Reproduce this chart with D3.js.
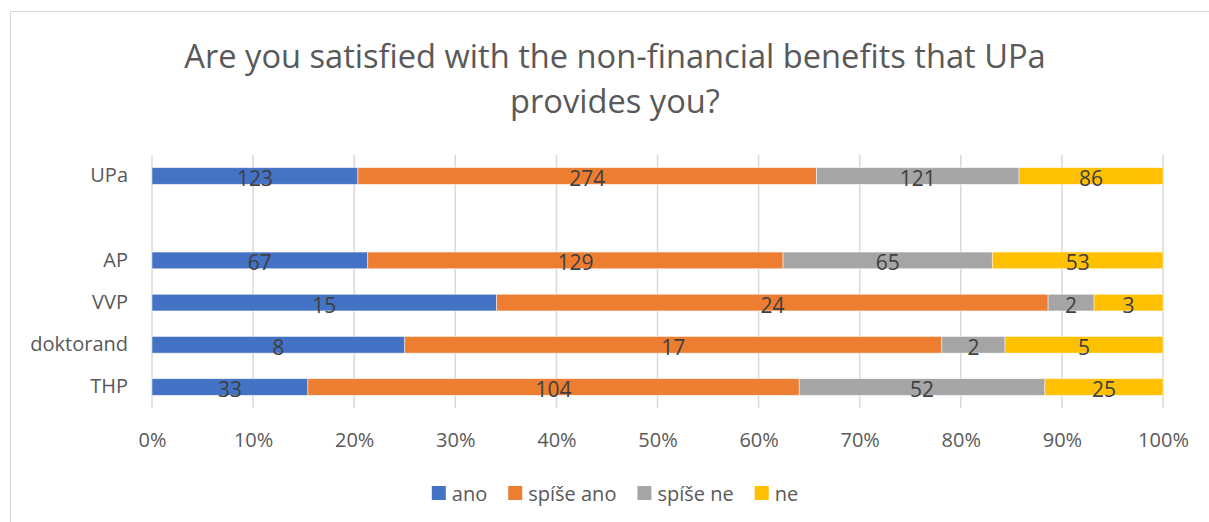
<!DOCTYPE html>
<html>
<head>
<meta charset="utf-8">
<script src="https://cdn.jsdelivr.net/npm/d3@7"></script>
<style>
  html, body { margin: 0; padding: 0; background: #fff; }
  svg { display: block; font-family: "Open Sans", sans-serif; }
</style>
</head>
<body>
<svg id="chart" width="1209" height="522"></svg>
<script>
// ---- data ----
const titleLines = ["Are you satisfied with the non-financial benefits that UPa", "provides you?"];
const categories = ["UPa", "", "AP", "VVP", "doktorand", "THP"];
const seriesNames = ["ano", "spíše ano", "spíše ne", "ne"];
const seriesColors = ["#4472C4", "#ED7D31", "#A5A5A5", "#FFC000"];
const ano      = [123, null, 67, 15, 8, 33];
const spiseAno = [274, null, 129, 24, 17, 104];
const spiseNe  = [121, null, 65, 2, 2, 52];
const ne       = [86, null, 53, 3, 5, 25];
const tickValues = [0, 0.1, 0.2, 0.3, 0.4, 0.5, 0.6, 0.7, 0.8, 0.9, 1.0];

// ---- layout ----
const svg = d3.select("#chart");
const plot = { left: 152, right: 1163, top: 155, bottom: 408 };
const centerX = 615;

// outer chart border
svg.append("rect").attr("x", 10.5).attr("y", 11.5).attr("width", 1215).attr("height", 530)
  .attr("fill", "none").attr("stroke", "#d9d9d9").attr("stroke-width", 1);

// title
const title = svg.append("text").attr("text-anchor", "middle").attr("fill", "#595959")
  .style("font-size", "30px");
title.selectAll("tspan").data(titleLines).join("tspan")
  .attr("x", centerX).attr("y", (d, i) => 68 + i * 45).text(d => d);
const firstLen = title.select("tspan").node().getComputedTextLength();
title.style("font-size", (30 * 862 / firstLen) + "px");

// scales
const x = d3.scaleLinear().domain([0, 1]).range([plot.left, plot.right]);
const y = d3.scaleBand().domain(categories).range([plot.top, plot.bottom])
  .paddingInner(0.605).paddingOuter(0.3);

// gridlines
svg.append("g").selectAll("line").data(tickValues).join("line")
  .attr("x1", d => x(d)).attr("x2", d => x(d))
  .attr("y1", plot.top).attr("y2", plot.bottom)
  .attr("stroke", "#d9d9d9").attr("stroke-width", 1.5);

// x axis labels
const xAxis = d3.axisBottom(x).tickValues(tickValues).tickFormat(d3.format(".0%")).tickSize(0).tickPadding(0);
const gx = svg.append("g").attr("transform", `translate(0, ${plot.bottom + 25})`).call(xAxis);
gx.select(".domain").remove();
gx.selectAll("text").attr("fill", "#595959").style("font-size", "20px")
  .style("font-family", "'Open Sans', sans-serif");

// y axis labels
const yAxis = d3.axisLeft(y).tickSize(0).tickPadding(0);
const gy = svg.append("g").attr("transform", `translate(${plot.left - 24}, 0)`).call(yAxis);
gy.select(".domain").remove();
gy.selectAll("text").attr("fill", "#595959").style("font-size", "20px")
  .style("font-family", "'Open Sans', sans-serif");

// stacked data
const seriesArrays = [ano, spiseAno, spiseNe, ne];
const rows = categories.map((c, i) => {
  const row = { cat: c };
  seriesNames.forEach((s, j) => row[s] = seriesArrays[j][i]);
  return row;
}).filter(r => r.ano !== null);
const stacked = d3.stack().keys(seriesNames).offset(d3.stackOffsetExpand)(rows);

const layers = svg.append("g").selectAll("g").data(stacked).join("g")
  .attr("fill", (d, i) => seriesColors[i]);

layers.selectAll("rect").data(d => d).join("rect")
  .attr("x", d => x(d[0]))
  .attr("width", d => x(d[1]) - x(d[0]))
  .attr("y", d => y(d.data.cat))
  .attr("height", y.bandwidth())
  .attr("stroke", "rgba(255,255,255,0.6)").attr("stroke-width", 0.8);

// data labels
layers.each(function(layer) {
  d3.select(this).selectAll("text").data(layer).join("text")
    .attr("x", d => (x(d[0]) + x(d[1])) / 2)
    .attr("y", d => y(d.data.cat) + y.bandwidth() / 2 + 2)
    .attr("text-anchor", "middle").attr("dominant-baseline", "central")
    .attr("fill", "#404040").style("font-size", "21px")
    .text(d => d.data[layer.key]);
});

// legend
const legend = svg.append("g");
const legendY = 493;
const items = legend.selectAll("g").data(seriesNames).join("g");
items.append("rect").attr("width", 14).attr("height", 14).attr("y", legendY - 7)
  .attr("fill", (d, i) => seriesColors[i]);
items.append("text").attr("x", 20).attr("y", legendY).attr("dominant-baseline", "central")
  .attr("fill", "#595959").style("font-size", "20px").text(d => d);
const widths = [];
items.each(function() { widths.push(20 + d3.select(this).select("text").node().getComputedTextLength()); });
const gap = 21;
const total = d3.sum(widths) + gap * (widths.length - 1);
let cx = centerX - total / 2;
items.attr("transform", (d, i) => {
  const t = `translate(${cx}, 0)`;
  cx += widths[i] + gap;
  return t;
});
</script>
</body>
</html>
